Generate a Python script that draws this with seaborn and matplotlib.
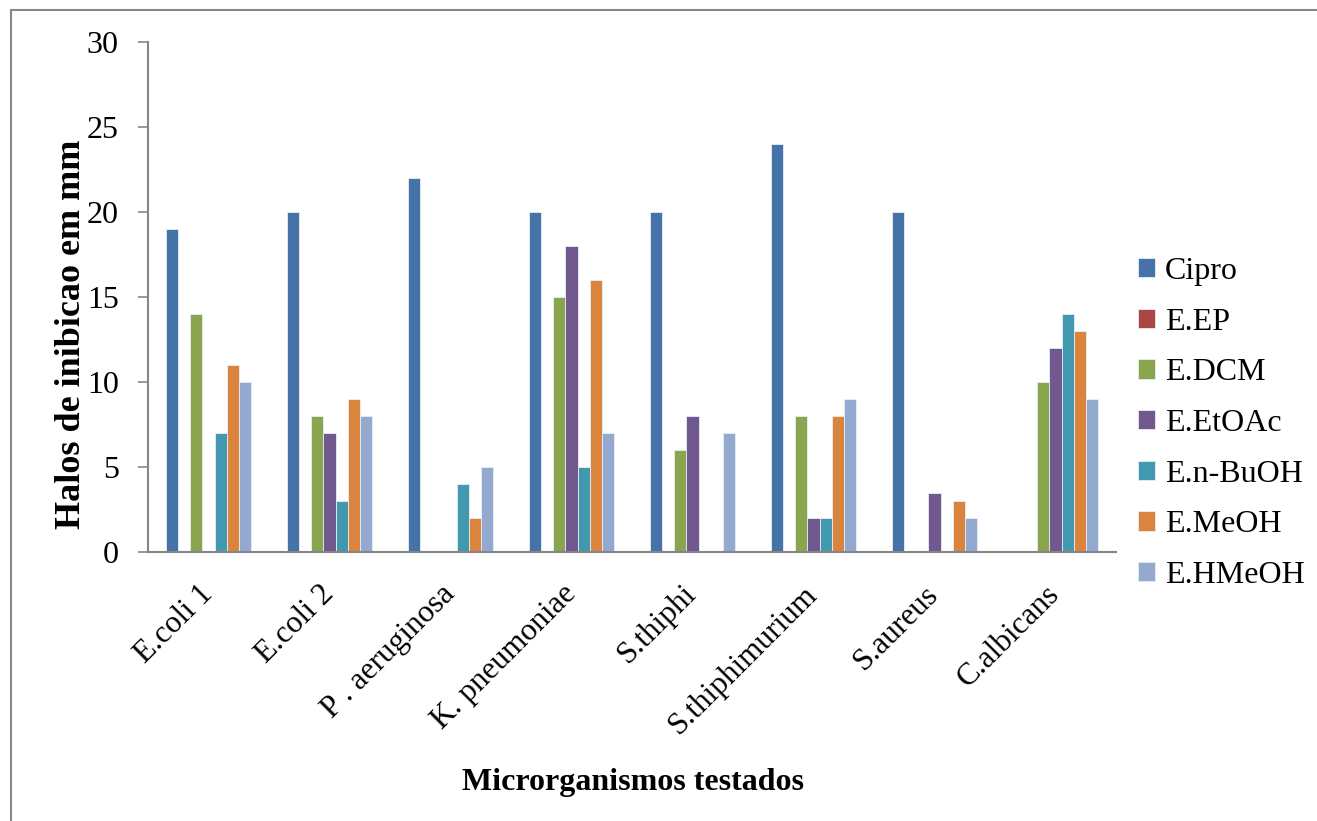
import pandas as pd
import matplotlib
matplotlib.use("Agg")
import matplotlib.pyplot as plt
import seaborn as sns
from matplotlib.lines import Line2D

# data
microrganismos = ["E.coli 1", "E.coli 2", "P . aeruginosa", "K. pneumoniae",
                  "S.thiphi", "S.thiphimurium", "S.aureus", "C.albicans"]
extratos = ["Cipro", "E.EP", "E.DCM", "E.EtOAc", "E.n-BuOH", "E.MeOH", "E.HMeOH"]

cipro = [19, 20, 22, 20, 20, 24, 20, 0]
e_ep = [0, 0, 0, 0, 0, 0, 0, 0]
e_dcm = [14, 8, 0, 15, 6, 8, 0, 10]
e_etoac = [0, 7, 0, 18, 8, 2, 3.5, 12]
e_nbuoh = [7, 3, 4, 5, 0, 2, 0, 14]
e_meoh = [11, 9, 2, 16, 0, 8, 3, 13]
e_hmeoh = [10, 8, 5, 7, 7, 9, 2, 9]

cores = ["#4572A7", "#AA4643", "#89A54E", "#71588F", "#4198AF", "#DB843D", "#93A9CF"]

series = [cipro, e_ep, e_dcm, e_etoac, e_nbuoh, e_meoh, e_hmeoh]
rows = []
for nome, vals in zip(extratos, series):
    for micro, v in zip(microrganismos, vals):
        rows.append({"micro": micro, "extrato": nome, "halo": v})
df = pd.DataFrame(rows)

sns.set_style("white")
plt.rcParams["font.family"] = ["Liberation Serif", "DejaVu Serif"]
plt.rcParams["text.color"] = "black"
plt.rcParams["xtick.color"] = "black"
plt.rcParams["ytick.color"] = "black"

fig = plt.figure(figsize=(13.17, 8.21), dpi=100)
ax = fig.add_axes([148 / 1317, 1 - 552.3 / 821, (1116 - 148) / 1317, (552.3 - 41.8) / 821])

sns.barplot(data=df, x="micro", y="halo", hue="extrato", order=microrganismos,
            hue_order=extratos, palette=cores, saturation=1, width=0.7, ax=ax,
            edgecolor="#e8eef6", linewidth=0.6, errorbar=None)

ax.set_ylim(0, 30)
ax.set_yticks(range(0, 31, 5))
ax.set_xlim(-0.5, len(microrganismos) - 0.5)

grey = "#868686"
for s in ["top", "right"]:
    ax.spines[s].set_visible(False)
for s in ["left", "bottom"]:
    ax.spines[s].set_color(grey)
    ax.spines[s].set_linewidth(1.5)

ax.tick_params(axis="y", direction="out", length=7, width=1.2, color=grey,
               labelsize=23, labelcolor="black", pad=14, left=True)
ax.tick_params(axis="x", length=0, labelsize=22.5, labelcolor="black", pad=27)
for lab in ax.get_xticklabels():
    lab.set_rotation(45)
    lab.set_ha("right")
    lab.set_va("center")
    lab.set_rotation_mode("anchor")

ax.set_xlabel("")
ax.set_ylabel("")
fig.text(633 / 1317, 1 - 782 / 821, "Microrganismos testados", ha="center", va="center",
         fontsize=23, fontweight="bold", color="black")
fig.text(72 / 1317, 1 - 334 / 821, "Halos de inibicao em mm", ha="center", va="center",
         rotation=90, fontsize=26, fontweight="bold", color="black")

handles, labels = ax.get_legend_handles_labels()
leg = ax.legend(handles, labels, loc="upper left", bbox_to_anchor=(1125 / 1317, 1 - 244 / 821),
                bbox_transform=fig.transFigure, frameon=False, fontsize=23,
                handlelength=0.55, handleheight=0.55, handletextpad=0.3, labelspacing=0.68,
                borderaxespad=0)
for t in leg.get_texts():
    t.set_color("black")

# outer chart border (left and top visible)
fig.add_artist(Line2D([11 / 1317, 11 / 1317], [0, 1 - 10 / 821], transform=fig.transFigure,
                      color=grey, linewidth=1.5))
fig.add_artist(Line2D([11 / 1317, 1], [1 - 10 / 821, 1 - 10 / 821], transform=fig.transFigure,
                      color=grey, linewidth=1.5))

fig.savefig("out.png", dpi=100)
